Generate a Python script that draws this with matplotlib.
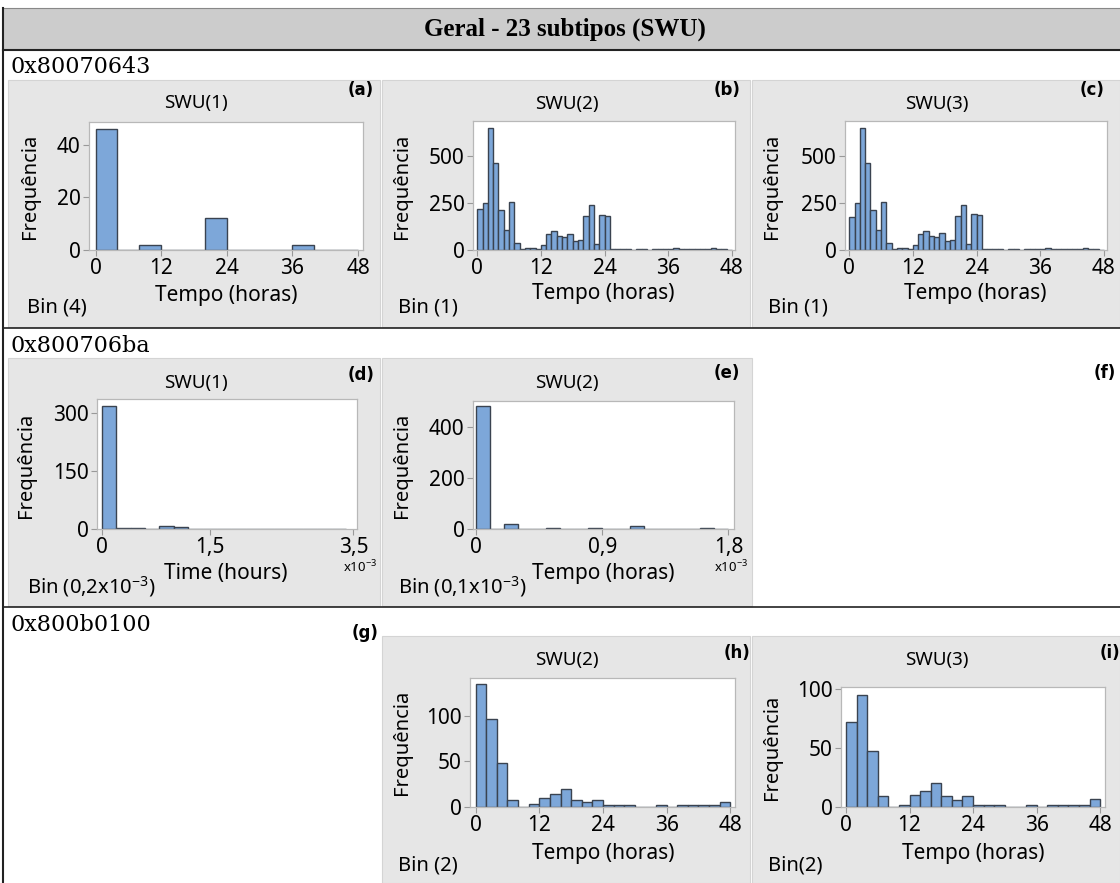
import numpy as np
import matplotlib
matplotlib.use("Agg")
import matplotlib.pyplot as plt
from matplotlib.patches import Rectangle
from matplotlib.transforms import Affine2D

plt.rcParams['font.family'] = ['Noto Sans', 'DejaVu Sans']
plt.rcParams['mathtext.fontset'] = 'custom'
plt.rcParams['mathtext.rm'] = 'Noto Sans'
plt.rcParams['mathtext.default'] = 'rm'

# data (counts per bin)
hours_ticks = [0, 12, 24, 36, 48]

a_bin = 4
a_counts = [46, 0, 2, 0, 0, 12, 0, 0, 0, 2, 0, 0]

b_bin = 1
b_counts = [216, 248, 651, 465, 213, 106, 256, 35, 7, 9, 13, 5,
            27, 83, 102, 74, 67, 88, 48, 53, 181, 238, 33, 188,
            181, 8, 5, 4, 4, 2, 3, 4, 2, 3, 4, 4,
            3, 10, 6, 5, 4, 3, 5, 4, 12, 4, 3, 2]

c_bin = 1
c_counts = [177, 248, 651, 465, 213, 106, 256, 35, 7, 9, 13, 5,
            27, 83, 103, 74, 67, 89, 48, 53, 181, 239, 32, 190,
            186, 8, 5, 4, 4, 2, 3, 4, 2, 3, 4, 4,
            3, 9, 6, 5, 4, 3, 5, 4, 11, 4, 3, 2]

d_bin = 0.2
d_counts = [317, 3, 3, 0, 8, 4, 1, 1, 1, 1, 0, 0, 1, 1, 1, 0, 1]
d_ticks = [0, 1.5, 3.5]
d_ticklabels = ['0', '1,5', '3,5']

e_bin = 0.1
e_counts = [481, 0, 18, 0, 0, 2, 0, 0, 5, 0, 0, 10, 0, 0, 0, 0, 2, 0]
e_ticks = [0, 0.9, 1.8]
e_ticklabels = ['0', '0,9', '1,8']

h_bin = 2
h_counts = [134, 96, 48, 8, 0, 3, 10, 14, 20, 8, 6, 8,
            2, 2, 2, 0, 0, 2, 0, 2, 2, 2, 2, 6]

i_bin = 2
i_counts = [72, 95, 48, 9, 0, 2, 10, 14, 20, 9, 6, 9,
            2, 2, 2, 0, 0, 2, 0, 2, 2, 2, 2, 7]

W, H = 1120, 883
fig = plt.figure(figsize=(W / 100, H / 100), dpi=100)
fig.patch.set_facecolor('white')
T = Affine2D().scale(1 / W, -1 / H).translate(0, 1) + fig.transFigure


def box(x0, y0, x1, y1):
    return [x0 / W, 1 - y1 / H, (x1 - x0) / W, (y1 - y0) / H]


def rect(x0, y0, x1, y1, fc, ec='none', lw=0):
    fig.add_artist(Rectangle((x0, y0), x1 - x0, y1 - y0, transform=T,
                             facecolor=fc, edgecolor=ec, linewidth=lw, zorder=-5))


def line(x0, y0, x1, y1, color='#222222', lw=1.2):
    fig.add_artist(plt.Line2D([x0, x1], [y0, y1], transform=T, color=color, lw=lw, zorder=-4))


# header band
rect(3, 8, 1120, 50, '#cccccc')
line(3, 8, 1120, 8, '#888888', 0.8)
fig.text(565, 29, 'Geral - 23 subtipos (SWU)', transform=T, ha='center', va='center',
         family='Liberation Serif', weight='bold', fontsize=18)
line(3, 50, 1120, 50, '#222222', 1.5)
line(3, 328, 1120, 328)
line(3, 607, 1120, 607)
line(3, 8, 3, 883, '#222222', 1.5)

rows = [('0x80070643', 67), ('0x800706ba', 346), ('0x800b0100', 625)]
for name, yy in rows:
    fig.text(10, yy, name, transform=T, ha='left', va='center',
             family='DejaVu Serif', fontsize=16)

panels = [
    # tag, panel, axes, tagpos, titlepos, ylabpos, xlabpos, binpos, counts, bin, ticks, ticklabels, xlim, ylim, yticks, title, xlab, bintext
    ('(a)', (8, 80, 380, 327), (89, 122, 363, 250), (361, 90), (196, 103), (30, 186), (226, 296), (27, 308),
     a_counts, a_bin, hours_ticks, None, (-1.2, 48.9), 48.6, [0, 20, 40], 'SWU(1)', 'Tempo (horas)', 'Bin (4)'),
    ('(b)', (382, 80, 750, 327), (473, 121, 735, 250), (727, 90), (567, 104), (402, 186), (603, 294), (398, 307),
     b_counts, b_bin, hours_ticks, None, (-0.8, 48.6), 688, [0, 250, 500], 'SWU(2)', 'Tempo (horas)', 'Bin (1)'),
    ('(c)', (752, 80, 1120, 327), (845, 121, 1107, 250), (1092, 90), (937, 104), (772, 186), (975, 294), (768, 307),
     c_counts, c_bin, hours_ticks, None, (-0.8, 48.6), 688, [0, 250, 500], 'SWU(3)', 'Tempo (horas)', 'Bin (1)'),
    ('(d)', (8, 358, 380, 606), (97, 399, 357, 529), (361, 375), (196, 383), (26, 465), (226, 573), (27, 587),
     d_counts, d_bin, d_ticks, d_ticklabels, (-0.07, 3.55), 336, [0, 150, 300], 'SWU(1)', 'Time (hours)',
     r'Bin (0,2x10$^{-3}$)'),
    ('(e)', (382, 358, 752, 606), (473, 401, 734, 529), (727, 373), (567, 383), (402, 465), (603, 573), (398, 587),
     e_counts, e_bin, e_ticks, e_ticklabels, (-0.024, 1.84), 502, [0, 200, 400], 'SWU(2)', 'Tempo (horas)',
     r'Bin (0,1x10$^{-3}$)'),
    ('(h)', (382, 636, 750, 883), (470, 678, 735, 807), (737, 653), (567, 660), (402, 742), (603, 853), (398, 866),
     h_counts, h_bin, hours_ticks, None, (-1.07, 48.9), 141, [0, 50, 100], 'SWU(2)', 'Tempo (horas)', 'Bin (2)'),
    ('(i)', (752, 636, 1120, 883), (841, 687, 1105, 807), (1110, 653), (937, 660), (772, 747), (973, 853), (768, 866),
     i_counts, i_bin, hours_ticks, None, (-0.93, 48.9), 102, [0, 50, 100], 'SWU(3)', 'Tempo (horas)', 'Bin(2)'),
]

for (tag, pnl, axb, tagp, titp, ylp, xlp, binp, counts, width, xt, xtl, xlim, ytop, yt,
     title, xlab, bintext) in panels:
    rect(pnl[0], pnl[1], pnl[2], pnl[3], '#e6e6e6', '#d4d4d4', 0.8)
    ax = fig.add_axes(box(*axb))
    ax.set_facecolor('white')
    lefts = np.arange(len(counts)) * width
    ax.bar(lefts, counts, width=width, align='edge', color='#7da7d9',
           edgecolor='#3a4350', linewidth=1.0)
    ax.set_xlim(*xlim)
    ax.set_ylim(0, ytop)
    ax.set_xticks(xt)
    if xtl is not None:
        ax.set_xticklabels(xtl)
    ax.set_yticks(yt)
    for s in ax.spines.values():
        s.set_color('#b8b8b8')
        s.set_linewidth(0.9)
    ax.tick_params(direction='out', length=4, width=0.8, color='#999999',
                   labelsize=15, pad=2)
    fig.text(*tagp, tag, transform=T, ha='center', va='center', fontsize=12,
             family='DejaVu Sans', weight='bold')
    fig.text(*titp, title, transform=T, ha='center', va='center', fontsize=13.5)
    fig.text(*ylp, 'Frequência', transform=T, ha='center', va='center', rotation=90,
             fontsize=14.5)
    fig.text(*xlp, xlab, transform=T, ha='center', va='center', fontsize=15)
    fig.text(*binp, bintext, transform=T, ha='left', va='center', fontsize=14.5)

fig.text(360, 567, r'x10$^{-3}$', transform=T, ha='center', va='center', fontsize=9.5)
fig.text(731, 567, r'x10$^{-3}$', transform=T, ha='center', va='center', fontsize=9.5)
fig.text(1105, 373, '(f)', transform=T, ha='center', va='center', fontsize=12,
         family='DejaVu Sans', weight='bold')
fig.text(365, 633, '(g)', transform=T, ha='center', va='center', fontsize=12,
         family='DejaVu Sans', weight='bold')

fig.savefig('out.png', dpi=100)
